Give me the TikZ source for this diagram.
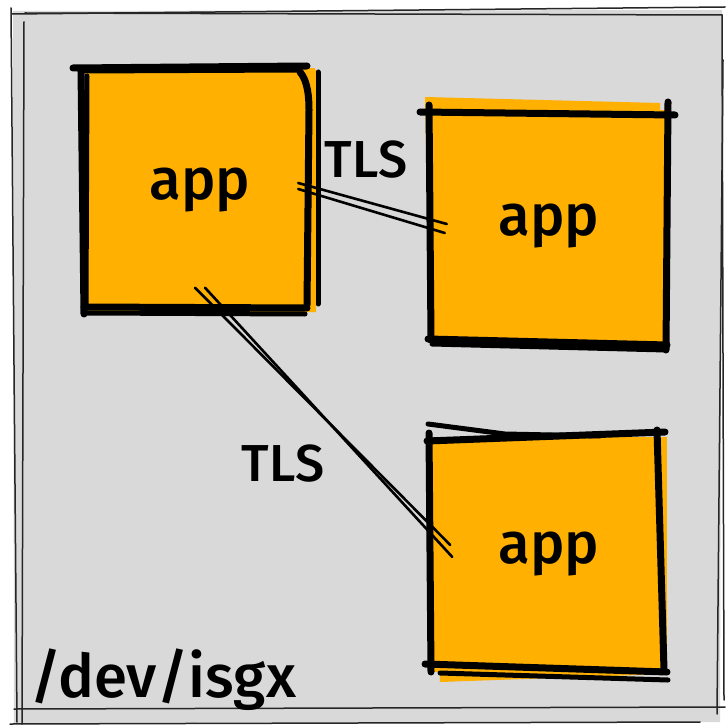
\documentclass[tikz,border=0pt]{standalone}
\usepackage{fontspec}
\setmainfont{Fira Sans Medium}
\begin{document}
\begin{tikzpicture}[x=1pt,y=-1pt,line cap=round,line join=round]
  \definecolor{panel}{RGB}{217,217,217}
  \definecolor{amber}{RGB}{255,176,0}
  \tikzset{
    appbox/.style={fill=amber,draw=none,inner sep=0pt,font=\fontsize{58}{60}\selectfont},
    heavy/.style={line width=7pt,black},
    medium/.style={line width=5pt,black},
    hair/.style={line width=1.5pt,black!85},
    wire/.style={line width=2.6pt,black},
    lbl/.style={inner sep=0pt,font=\fontsize{52}{56}\selectfont}
  }
  \useasboundingbox (0,0) rectangle (725,727);
  \fill[white] (0,0) rectangle (725,727);

  % host panel
  \fill[panel] (13,11) -- (722,10) -- (720,722) -- (14,723) -- cycle;
  \draw[hair] (12,14) -- (725,7);
  \draw[hair] (25,13) -- (722,15);
  \draw[hair] (11,8) -- (17,722);
  \draw[hair] (24,22) -- (22,724);
  \draw[hair] (723,60) -- (717,714);
  \draw[hair] (722,15) -- (724,700);
  \draw[hair] (14,709) -- (725,707);
  \draw[hair] (10,724) -- (700,722);

  % application boxes
  \fill[amber] (85,70) -- (316,70) -- (316,312) -- (86,313) -- cycle;
  \node[appbox,minimum width=230pt,minimum height=243pt] (app1) at (200,190) {app};
  \draw[heavy] (73,68) -- (307,66);
  \draw[medium] (80,71) -- (300,70);
  \draw[heavy] (81,70) -- (84,314);
  \draw[medium] (87,76) -- (86,306);
  \draw[heavy] (84,307) -- (307,308);
  \draw[medium] (86,313) -- (305,314);
  \draw[heavy] (300,72) .. controls (305,78) and (309,88) .. (309,110) -- (307,305);
  \draw[medium] (318,72) -- (318,304);

  \fill[amber] (425,97) -- (660,103) -- (664,340) -- (430,337) -- cycle;
  \node[appbox,minimum width=240pt,minimum height=232pt] (app2) at (549,226) {app};
  \draw[heavy] (420,112) -- (675,115);
  \draw[heavy] (429,105) -- (431,340);
  \draw[heavy] (668,102) -- (666,350);
  \draw[heavy] (428,339) -- (667,345);
  \draw[medium] (432,344) -- (666,350);

  \fill[amber] (432,440) -- (665,437) -- (666,674) -- (440,682) -- cycle;
  \node[appbox,minimum width=235pt,minimum height=235pt] (app3) at (549,554) {app};
  \draw[medium] (428,424) -- (505,434) -- (600,436);
  \draw[heavy] (427,441) -- (665,432);
  \draw[heavy] (429,433) -- (431,672);
  \draw[heavy] (657,430) -- (664,670);
  \draw[heavy] (425,664) -- (667,672);
  \draw[medium] (440,673) -- (668,680);

  % TLS links between the applications
  \draw[wire] ([shift={(-17,-7)}]app1.east) -- ([shift={(18,-2)}]app2.west);
  \draw[wire] ([shift={(-17,-1)}]app1.east) -- ([shift={(16,7)}]app2.west);
  \draw[wire] ([shift={(-5,-24)}]app1.south) -- ([shift={(19,-9)}]app3.west);
  \draw[wire] ([shift={(5,-24)}]app1.south) -- ([shift={(21,3)}]app3.west);

  \node[lbl] (tls1) at (366,160) {TLS};
  \node[lbl] (tls2) at (283,464) {TLS};

  \node[anchor=base west,inner sep=0pt,font=\fontsize{60}{64}\selectfont] (dev) at (30,697) {/dev/isgx};
\end{tikzpicture}
\end{document}
